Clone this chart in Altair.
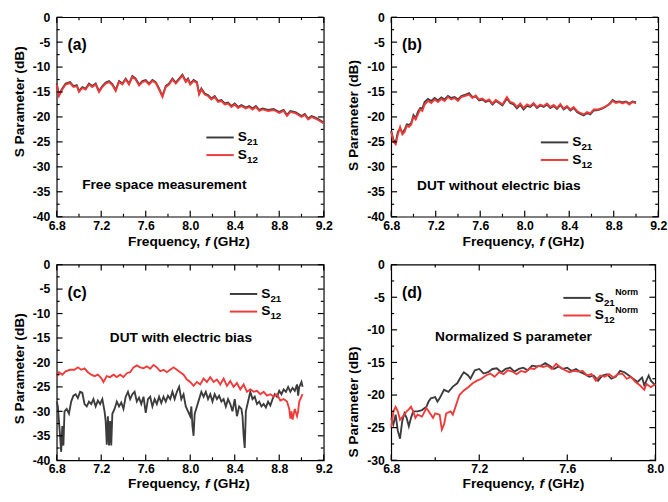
import altair as alt
import pandas as pd

FONT = "Liberation Sans"
C21 = "#3c3c3c"
C12 = "#f03a3a"

# ---------------- data ----------------
# (a) free space
fa = [6.80, 6.82, 6.85, 6.88, 6.92, 6.95, 6.98, 7.00, 7.03, 7.06,
      7.09, 7.12, 7.15, 7.18, 7.21, 7.24, 7.27, 7.30, 7.33, 7.36,
      7.39, 7.42, 7.45, 7.48, 7.51, 7.54, 7.57, 7.60, 7.63, 7.66,
      7.69, 7.72, 7.75, 7.78, 7.81, 7.84, 7.87, 7.90, 7.93, 7.96,
      7.98, 8.00, 8.03, 8.06, 8.08, 8.10, 8.13, 8.16, 8.19, 8.22,
      8.25, 8.28, 8.31, 8.34, 8.37, 8.40, 8.43, 8.46, 8.50, 8.53,
      8.56, 8.59, 8.62, 8.65, 8.70, 8.75, 8.80, 8.84, 8.87, 8.90,
      8.95, 9.00, 9.03, 9.06, 9.09, 9.12, 9.15, 9.20]
a12 = [-13.5, -15.8, -14.5, -13.5, -13.2, -14.0, -13.8, -15.0, -14.2, -14.5,
       -13.5, -14.0, -13.5, -15.0, -14.0, -13.3, -13.0, -13.6, -14.8, -13.0,
       -13.5, -12.5, -13.5, -12.0, -12.5, -13.7, -13.0, -12.8, -13.5, -12.8,
       -13.2, -14.5, -16.0, -14.0, -13.5, -12.5, -13.3, -12.5, -11.7, -13.0,
       -12.5, -13.5, -12.8, -13.2, -15.5, -14.5, -15.5, -15.8, -16.5, -16.0,
       -17.0, -16.8, -17.5, -17.3, -18.0, -17.5, -18.2, -17.8, -18.3, -18.0,
       -18.5, -18.0, -18.8, -18.5, -18.8, -18.6, -19.2, -18.8, -19.8, -19.0,
       -19.3, -20.0, -19.6, -20.5, -20.0, -20.3, -20.6, -21.3]
a21 = [-13.3, -15.6, -14.3, -13.3, -13.0, -13.8, -13.6, -14.8, -14.0, -14.3,
       -13.3, -13.8, -13.3, -14.8, -13.8, -13.1, -12.8, -13.4, -14.6, -12.8,
       -13.3, -12.3, -13.3, -11.8, -12.3, -13.5, -12.8, -12.6, -13.3, -12.6,
       -13.0, -14.3, -15.8, -13.8, -13.3, -12.3, -13.1, -12.3, -11.5, -12.8,
       -12.3, -13.3, -12.6, -13.0, -15.3, -14.3, -15.3, -15.6, -16.3, -15.8,
       -16.8, -16.6, -17.3, -17.1, -17.8, -17.3, -18.0, -17.6, -18.1, -17.8,
       -18.3, -17.8, -18.6, -18.3, -18.6, -18.4, -19.0, -18.6, -19.6, -18.8,
       -19.1, -19.8, -19.4, -20.3, -19.8, -20.1, -20.4, -21.1]

# (b) DUT without bias
fb = [6.80, 6.82, 6.84, 6.86, 6.88, 6.90, 6.92, 6.94, 6.96, 6.98,
      7.00, 7.02, 7.04, 7.06, 7.08, 7.10, 7.13, 7.16, 7.19, 7.22,
      7.25, 7.28, 7.31, 7.34, 7.37, 7.40, 7.43, 7.46, 7.50, 7.53,
      7.56, 7.59, 7.62, 7.65, 7.68, 7.71, 7.74, 7.77, 7.80, 7.84,
      7.87, 7.90, 7.93, 7.96, 7.99, 8.02, 8.05, 8.08, 8.11, 8.14,
      8.17, 8.20, 8.23, 8.26, 8.29, 8.32, 8.35, 8.38, 8.41, 8.44,
      8.47, 8.50, 8.53, 8.56, 8.59, 8.62, 8.66, 8.70, 8.73, 8.76,
      8.79, 8.82, 8.85, 8.88, 8.91, 8.94, 8.97, 9.00]
b12 = [-23.0, -25.0, -25.5, -23.5, -22.0, -23.5, -23.0, -21.8, -22.0, -21.5,
       -20.0, -20.5, -19.5, -18.5, -18.8, -17.5, -16.8, -17.2, -16.5, -17.0,
       -16.4, -16.8, -16.0, -16.5, -16.2, -16.8, -16.0, -15.8, -15.5, -16.2,
       -15.7, -16.5, -16.3, -16.8, -16.5, -17.3, -16.6, -17.0, -17.5, -16.0,
       -17.0, -17.2, -18.0, -17.3, -18.2, -17.5, -17.8, -17.2, -18.0, -17.5,
       -17.8, -17.3, -18.0, -17.6, -18.2, -17.4, -18.3, -17.8, -18.5, -18.0,
       -18.8, -19.2, -19.5, -19.0, -19.3, -18.5, -18.5, -18.2, -17.8, -17.5,
       -16.8, -17.2, -17.0, -17.3, -17.0, -17.5, -17.0, -17.3]
b21 = [-22.8, -24.6, -25.2, -23.0, -22.3, -23.2, -22.6, -21.5, -21.6, -21.2,
       -19.6, -20.2, -19.0, -18.2, -18.3, -17.0, -16.4, -16.8, -16.2, -16.7,
       -16.1, -16.5, -15.8, -16.2, -16.0, -16.5, -15.8, -15.6, -15.2, -16.0,
       -15.9, -16.7, -16.5, -17.0, -16.7, -17.5, -16.8, -17.2, -17.7, -16.3,
       -17.2, -17.5, -18.3, -17.6, -18.5, -17.8, -18.0, -17.4, -18.2, -17.7,
       -18.0, -17.5, -18.2, -17.8, -18.4, -17.6, -18.5, -18.0, -18.7, -18.2,
       -19.0, -19.4, -19.7, -19.2, -19.5, -18.7, -18.6, -18.3, -17.9, -17.4,
       -16.6, -17.0, -16.9, -17.1, -16.9, -17.3, -16.9, -17.1]

# (c) DUT with bias
fc12 = [6.80, 6.82, 6.85, 6.88, 6.92, 6.96, 6.99, 7.02, 7.05, 7.08,
        7.11, 7.14, 7.17, 7.20, 7.22, 7.25, 7.28, 7.31, 7.34, 7.37,
        7.40, 7.43, 7.46, 7.49, 7.52, 7.55, 7.58, 7.61, 7.64, 7.67,
        7.70, 7.73, 7.76, 7.79, 7.82, 7.85, 7.88, 7.91, 7.94, 7.97,
        8.00, 8.03, 8.06, 8.09, 8.12, 8.15, 8.18, 8.21, 8.24, 8.27,
        8.30, 8.33, 8.36, 8.39, 8.42, 8.45, 8.48, 8.51, 8.54, 8.57,
        8.60, 8.63, 8.66, 8.69, 8.72, 8.75, 8.78, 8.81, 8.84, 8.87,
        8.89, 8.90, 8.91, 8.92, 8.94, 8.96, 8.97, 8.98, 9.00, 9.01]
c12 = [-23.0, -22.0, -22.5, -21.8, -21.5, -21.5, -21.0, -21.5, -21.2, -22.0,
       -22.5, -22.8, -22.5, -23.2, -24.0, -22.8, -23.0, -22.5, -23.0, -22.5,
       -23.0, -22.2, -22.0, -21.0, -20.6, -21.0, -21.2, -20.8, -21.3, -20.5,
       -21.0, -21.8, -21.5, -22.0, -21.5, -21.0, -21.5, -22.0, -22.5, -23.5,
       -24.0, -24.8, -24.0, -24.5, -23.3, -24.0, -23.0, -24.0, -23.5, -24.5,
       -23.3, -24.8, -23.8, -25.0, -24.2, -25.5, -24.5, -26.0, -25.5, -26.0,
       -25.8, -26.5, -26.0, -26.8, -26.5, -27.0, -26.5, -27.8, -27.5, -28.0,
       -29.5, -31.5, -30.0, -31.7, -29.5, -31.0, -30.0, -28.0, -27.0, -26.5]
fc21 = [6.80, 6.81, 6.82, 6.83, 6.84, 6.85, 6.86, 6.87, 6.89, 6.91,
        6.93, 6.95, 6.97, 6.99, 7.01, 7.03, 7.05, 7.07, 7.09, 7.11,
        7.13, 7.15, 7.17, 7.19, 7.21, 7.23, 7.24, 7.25, 7.26, 7.27,
        7.28, 7.29, 7.30, 7.32, 7.34, 7.36, 7.38, 7.40, 7.42, 7.44,
        7.46, 7.48, 7.50, 7.52, 7.54, 7.56, 7.58, 7.60, 7.62, 7.64,
        7.66, 7.68, 7.70, 7.72, 7.74, 7.76, 7.78, 7.80, 7.82, 7.84,
        7.86, 7.88, 7.90, 7.92, 7.94, 7.96, 7.98, 8.00, 8.01, 8.02,
        8.03, 8.04, 8.06, 8.08, 8.10, 8.12, 8.14, 8.16, 8.18, 8.20,
        8.22, 8.24, 8.26, 8.28, 8.30, 8.32, 8.34, 8.36, 8.38, 8.40,
        8.42, 8.44, 8.46, 8.47, 8.48, 8.49, 8.50, 8.52, 8.54, 8.56,
        8.58, 8.60, 8.62, 8.64, 8.66, 8.68, 8.70, 8.72, 8.74, 8.76,
        8.78, 8.80, 8.82, 8.84, 8.86, 8.88, 8.90, 8.92, 8.94, 8.96,
        8.97, 8.98, 9.00, 9.01]
c21 = [-28.0, -29.0, -32.0, -35.0, -38.3, -33.0, -37.0, -30.0, -29.5, -30.5,
       -28.0, -26.8, -26.5, -27.3, -26.0, -26.2, -28.5, -29.0, -28.0, -28.5,
       -27.5, -29.0, -27.8, -28.5, -27.5, -30.0, -32.0, -36.8, -31.0, -37.0,
       -32.0, -37.0, -30.5, -29.5, -28.0, -29.0, -28.2, -29.5, -27.0, -26.0,
       -27.5, -26.5, -26.0, -28.0, -27.2, -28.5, -27.0, -30.3, -27.5, -27.0,
       -29.0, -27.5, -28.5, -27.0, -28.3, -27.0, -28.0, -26.8, -27.5, -26.0,
       -27.5, -26.0, -25.0, -27.5, -26.5, -29.0, -30.0, -31.0, -29.0, -33.0,
       -35.0, -30.5, -29.0, -27.5, -26.0, -27.0, -26.0, -27.5, -26.5, -28.0,
       -26.5, -27.5, -26.8, -28.0, -27.5, -29.0, -27.5, -28.5, -30.0, -27.5,
       -31.0, -29.0, -29.5, -31.0, -35.0, -37.5, -30.0, -28.0, -26.0, -27.5,
       -27.0, -28.5, -28.0, -29.0, -28.5, -29.2, -28.0, -28.8, -27.5, -26.5,
       -27.0, -25.8, -26.5, -25.5, -26.0, -25.0, -26.0, -25.2, -25.8, -24.5,
       -26.8, -25.0, -24.0, -25.0]

# (d) normalized
fd21 = [6.80, 6.81, 6.82, 6.83, 6.84, 6.85, 6.86, 6.87, 6.88, 6.89,
        6.90, 6.92, 6.94, 6.96, 6.97, 6.98, 7.00, 7.01, 7.02, 7.04,
        7.06, 7.08, 7.10, 7.12, 7.13, 7.15, 7.16, 7.18, 7.20, 7.22,
        7.24, 7.26, 7.28, 7.30, 7.32, 7.34, 7.36, 7.38, 7.40, 7.42,
        7.44, 7.46, 7.48, 7.50, 7.52, 7.54, 7.56, 7.58, 7.60, 7.62,
        7.64, 7.66, 7.68, 7.70, 7.72, 7.74, 7.76, 7.78, 7.80, 7.82,
        7.84, 7.86, 7.88, 7.90, 7.92, 7.94, 7.95, 7.97, 7.98, 8.00]
d21 = [-23.5, -24.5, -23.0, -25.5, -26.7, -24.0, -22.8, -23.5, -24.8, -23.5,
       -22.5, -22.5, -22.3, -21.8, -21.0, -20.5, -20.3, -21.0, -20.5, -19.2,
       -19.5, -18.7, -18.2, -17.0, -16.5, -17.0, -17.5, -16.2, -16.0, -16.7,
       -16.5, -16.0, -15.9, -16.5, -16.0, -15.8, -16.4, -16.0, -15.8, -16.2,
       -15.5, -15.6, -15.5, -15.1, -15.5, -16.0, -15.6, -16.0, -15.8, -16.3,
       -16.0, -16.5, -16.8, -17.2, -17.0, -17.8, -17.0, -16.8, -17.5, -17.2,
       -16.3, -16.5, -17.0, -17.5, -18.0, -17.3, -18.5, -17.0, -17.8, -18.5]
fd12 = [6.80, 6.81, 6.82, 6.83, 6.84, 6.86, 6.87, 6.88, 6.89, 6.90,
        6.91, 6.92, 6.94, 6.96, 6.97, 6.99, 7.00, 7.02, 7.03, 7.04,
        7.05, 7.07, 7.08, 7.09, 7.10, 7.11, 7.13, 7.15, 7.17, 7.19,
        7.21, 7.23, 7.25, 7.27, 7.29, 7.31, 7.33, 7.35, 7.37, 7.39,
        7.41, 7.43, 7.45, 7.47, 7.49, 7.51, 7.53, 7.55, 7.57, 7.59,
        7.61, 7.63, 7.65, 7.67, 7.69, 7.71, 7.73, 7.75, 7.77, 7.79,
        7.81, 7.83, 7.85, 7.87, 7.89, 7.91, 7.93, 7.95, 7.96, 7.98,
        8.00]
d12 = [-25.0, -22.5, -21.8, -22.5, -23.8, -23.0, -22.5, -22.2, -21.8, -22.5,
       -23.5, -23.0, -23.3, -22.0, -22.5, -23.5, -22.8, -23.0, -25.3, -24.5,
       -22.8, -22.5, -23.0, -22.0, -21.0, -20.0, -19.3, -18.8, -18.2, -17.8,
       -17.5, -17.0, -16.7, -17.2, -16.5, -16.8, -16.2, -16.4, -16.8, -16.3,
       -16.5, -15.9, -16.0, -15.5, -15.7, -15.5, -16.0, -15.2, -15.8, -16.2,
       -16.5, -16.3, -16.4, -16.3, -17.0, -16.8, -17.8, -17.0, -17.2, -16.8,
       -17.3, -16.8, -16.7, -17.5, -17.2, -18.0, -18.5, -19.2, -18.3, -18.8,
       -18.3]

# axis tick values
x_major_wide = [6.8, 7.2, 7.6, 8.0, 8.4, 8.8, 9.2]
x_minor_wide = [7.0, 7.4, 7.8, 8.2, 8.6, 9.0]
x_major_d = [6.8, 7.2, 7.6, 8.0]
x_minor_d = [7.0, 7.4, 7.8]
y_major_40 = [0, -5, -10, -15, -20, -25, -30, -35, -40]
y_minor_40 = [-2.5, -7.5, -12.5, -17.5, -22.5, -27.5, -32.5, -37.5]
y_major_30 = [0, -5, -10, -15, -20, -25, -30]
y_minor_30 = [-2.5, -7.5, -12.5, -17.5, -22.5, -27.5]


def txt(s, x, y, size=14, align="left", italic=False):
    return alt.Chart(pd.DataFrame({"t": [s]})).mark_text(
        font=FONT, fontSize=size, fontWeight="bold",
        fontStyle="italic" if italic else "normal",
        align=align, baseline="middle", color="black",
    ).encode(x=alt.value(x), y=alt.value(y), text="t:N")


def seg(color, x1, x2, y):
    return alt.Chart(pd.DataFrame({"k": [0]})).mark_rule(
        color=color, strokeWidth=2
    ).encode(x=alt.value(x1), x2=alt.value(x2), y=alt.value(y))


def xticks(values, xs, W, H, size):
    df = pd.DataFrame({"t": values})
    base = alt.Chart(df).mark_rule(color="black", strokeWidth=1.2)
    enc = alt.X("t:Q", scale=xs, axis=None)
    return [base.encode(x=enc, x2=alt.X2("t"), y=alt.value(H), y2=alt.value(H - size)),
            base.encode(x=enc, x2=alt.X2("t"), y=alt.value(0), y2=alt.value(size))]


def yticks(values, ys, W, H, size):
    df = pd.DataFrame({"t": values})
    base = alt.Chart(df).mark_rule(color="black", strokeWidth=1.2)
    enc = alt.Y("t:Q", scale=ys, axis=None)
    return [base.encode(y=enc, y2=alt.Y2("t"), x=alt.value(0), x2=alt.value(size)),
            base.encode(y=enc, y2=alt.Y2("t"), x=alt.value(W), x2=alt.value(W - size))]


def panel(f21, v21, f12, v12, xdom, ydom, xmaj, xmin, ymaj, ymin,
          W, H, letter, note, note_x, note_y, leg_x, leg_y, norm,
          ytitle_y, xtitle_dy):
    d21 = pd.DataFrame({"f": f21, "v": v21})
    d12 = pd.DataFrame({"f": f12, "v": v12})
    xs = alt.Scale(domain=xdom, nice=False, zero=False)
    ys = alt.Scale(domain=ydom, nice=False, zero=False)

    x_main = alt.Axis(orient="bottom", values=xmaj, ticks=False,
                      domain=False, labelFlush=False, labelOverlap=False,
                      labelPadding=3, format=".1f", labelFont=FONT,
                      labelFontSize=12.5, labelFontWeight="bold",
                      labelColor="black", title=None, grid=False)
    y_main = alt.Axis(orient="left", values=ymaj, ticks=False,
                      domain=False, labelPadding=7, labelExpr="datum.value + ''",
                      labelFont=FONT, labelFontSize=12.5, labelFontWeight="bold",
                      labelColor="black", labelOverlap=False,
                      title="S Parameter (dB)", titleFont=FONT,
                      titleFontSize=14, titleFontWeight="bold",
                      titleColor="black", titlePadding=6, titleY=ytitle_y,
                      grid=False)

    line21 = alt.Chart(d21).mark_line(color=C21, strokeWidth=1.9).encode(
        x=alt.X("f:Q", scale=xs, axis=x_main),
        y=alt.Y("v:Q", scale=ys, axis=y_main))
    line12 = alt.Chart(d12).mark_line(color=C12, strokeWidth=1.9).encode(
        x=alt.X("f:Q", scale=xs, axis=None),
        y=alt.Y("v:Q", scale=ys, axis=None))

    ticks = (xticks(xmaj, xs, W, H, 6) + xticks(xmin, xs, W, H, 3)
             + yticks(ymaj, ys, W, H, 6) + yticks(ymin, ys, W, H, 3))

    # legend
    lx, ly = leg_x, leg_y
    legend = [
        seg(C21, lx, lx + 28, ly), seg(C12, lx, lx + 28, ly + 18),
        txt("S", lx + 32, ly, 14), txt("21", lx + 41.5, ly + 5, 10),
        txt("S", lx + 32, ly + 18, 14), txt("12", lx + 41.5, ly + 23, 10),
    ]
    if norm:
        legend += [txt("Norm", lx + 53, ly - 6, 9), txt("Norm", lx + 53, ly + 12, 9)]

    ty = H + xtitle_dy
    xtitle = [txt("Frequency,", 73, ty, 14), txt("f", 151.5, ty, 14, italic=True),
              txt("(GHz)", 160, ty, 14)]

    layers = [line21, line12] + ticks + [
        txt(letter, 11, 29, 16), txt(note, note_x, note_y, 14, align="center")]
    layers += legend + xtitle
    return alt.layer(*layers).resolve_axis(x="independent", y="independent").properties(
        width=W, height=H)


pa = panel(fa, a21, fa, a12, [6.8, 9.2], [-40, 0], x_major_wide, x_minor_wide,
           y_major_40, y_minor_40, 273, 204, "(a)", "Free space measurement",
           110, 172, 153, 123, False, 86, 26)
pb = panel(fb, b21, fb, b12, [6.8, 9.2], [-40, 0], x_major_wide, x_minor_wide,
           y_major_40, y_minor_40, 273, 204, "(b)", "DUT without electric bias",
           110, 173, 153, 128, False, 100, 26)
pc = panel(fc21, c21, fc12, c12, [6.8, 9.2], [-40, 0], x_major_wide, x_minor_wide,
           y_major_40, y_minor_40, 273, 200, "(c)", "DUT with electric bias",
           127, 75, 177, 30, False, 106, 24)
pdn = panel(fd21, d21, fd12, d12, [6.8, 8.0], [-30, 0], x_major_d, x_minor_d,
            y_major_30, y_minor_30, 270, 200, "(d)", "Normalized S parameter",
            125, 74, 176, 34, True, 140, 24)

chart = alt.vconcat(
    alt.hconcat(pa, pb, spacing=13),
    alt.hconcat(pc, pdn, spacing=13),
    spacing=8,
).properties(
    padding={"left": 12, "top": 5, "right": 0, "bottom": 0},
    background="white",
).configure_view(stroke="black", strokeWidth=1.2).configure_axis(grid=False)

chart.save("out.html", embed_options={"renderer": "svg", "actions": False})
